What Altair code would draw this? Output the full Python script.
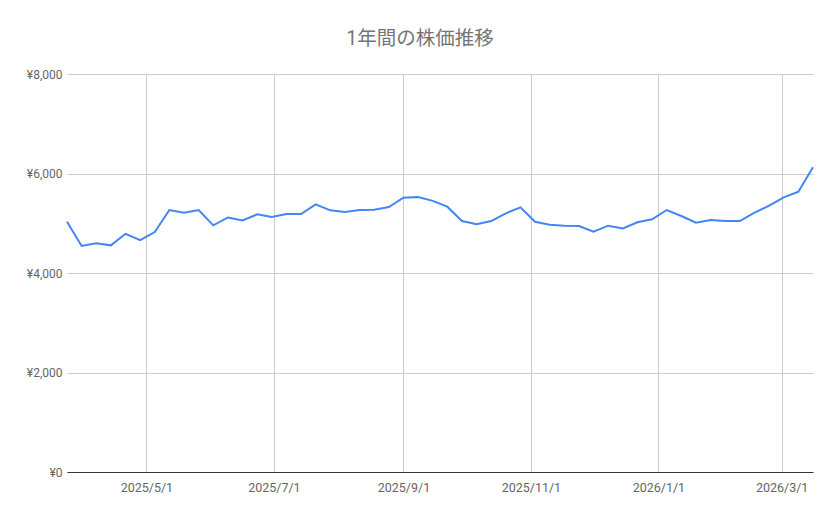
import altair as alt
import pandas as pd

dates = [
    "2025-03-24", "2025-03-31", "2025-04-07", "2025-04-14", "2025-04-21", "2025-04-28",
    "2025-05-05", "2025-05-12", "2025-05-19", "2025-05-26", "2025-06-02", "2025-06-09",
    "2025-06-16", "2025-06-23", "2025-06-30", "2025-07-07", "2025-07-14", "2025-07-21",
    "2025-07-28", "2025-08-04", "2025-08-11", "2025-08-18", "2025-08-25", "2025-09-01",
    "2025-09-08", "2025-09-15", "2025-09-22", "2025-09-29", "2025-10-06", "2025-10-13",
    "2025-10-20", "2025-10-27", "2025-11-03", "2025-11-10", "2025-11-17", "2025-11-24",
    "2025-12-01", "2025-12-08", "2025-12-15", "2025-12-22", "2025-12-29", "2026-01-05",
    "2026-01-12", "2026-01-19", "2026-01-26", "2026-02-02", "2026-02-09", "2026-02-16",
    "2026-02-23", "2026-03-02", "2026-03-09", "2026-03-16",
]
prices = [
    5031, 4543, 4600, 4556, 4788, 4660, 4824, 5266, 5213, 5266, 4958, 5116,
    5055, 5179, 5126, 5186, 5186, 5380, 5260, 5226, 5266, 5273, 5327, 5514,
    5528, 5450, 5333, 5045, 4978, 5045, 5200, 5320, 5031, 4971, 4951, 4945,
    4830, 4951, 4895, 5019, 5079, 5266, 5146, 5012, 5065, 5045, 5045, 5213,
    5353, 5521, 5634, 6124,
]
tick_dates = [(2025, 5, 1), (2025, 7, 1), (2025, 9, 1), (2025, 11, 1), (2026, 1, 1), (2026, 3, 1)]
y_ticks = [0, 2000, 4000, 6000, 8000]
title_text = "1年間の株価推移"

df = pd.DataFrame({"date": dates, "price": prices})

FONT = 'Roboto, "Noto Sans CJK JP", sans-serif'

chart = alt.Chart(df).mark_line(color="#4285F4", strokeWidth=2).encode(
    x=alt.X(
        "date:T",
        scale=alt.Scale(type="utc", domain=[alt.DateTime(year=2025, month=3, date=24, utc=True),
                                            alt.DateTime(year=2026, month=3, date=16, utc=True)]),
        axis=alt.Axis(
            title=None,
            values=[alt.DateTime(year=y, month=m, date=d, utc=True) for (y, m, d) in tick_dates],
            labelExpr="utcyear(datum.value) + '/' + (utcmonth(datum.value) + 1) + '/' + utcdate(datum.value)",
            grid=True,
            gridColor="#cccccc",
            ticks=False,
            domain=True,
            domainColor="#333333",
            domainWidth=1.2,
            labelPadding=9,
            labelFont=FONT,
            labelFontSize=12.5,
            labelColor="#666666",
        ),
    ),
    y=alt.Y(
        "price:Q",
        scale=alt.Scale(domain=[0, 8000], nice=False),
        axis=alt.Axis(
            title=None,
            values=y_ticks,
            labelExpr="'¥' + format(datum.value, ',')",
            grid=True,
            gridColor="#cccccc",
            ticks=False,
            domain=False,
            labelPadding=5,
            labelFont=FONT,
            labelFontSize=12,
            labelColor="#666666",
        ),
    ),
).properties(
    width=746,
    height=398,
    title=alt.TitleParams(
        text=title_text,
        anchor="middle",
        dx=-20,
        offset=19,
        font=FONT,
        fontSize=19.5,
        fontWeight="normal",
        color="#757575",
    ),
    autosize=alt.AutoSizeParams(type="none"),
    padding={"left": 59, "top": 66, "right": 18, "bottom": 30},
).configure(background="white").configure_view(stroke=None)

chart.save("out.html", embed_options={"renderer": "svg", "actions": False})
